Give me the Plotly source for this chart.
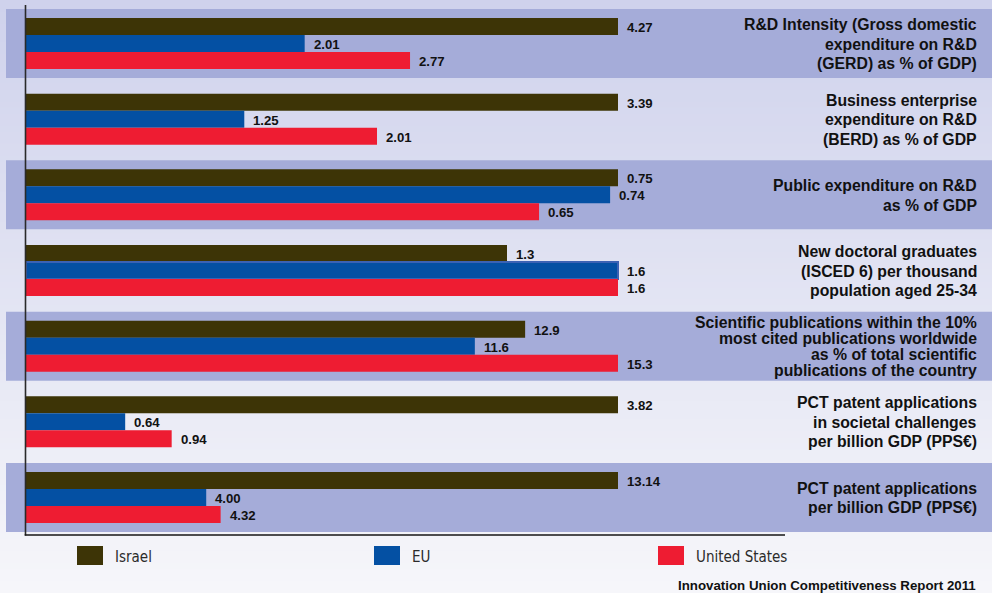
import plotly.graph_objects as go

# ---- data -------------------------------------------------------------
indicator_lines = [
    ["R&D Intensity (Gross domestic", "expenditure on R&D", "(GERD) as % of GDP)"],
    ["Business enterprise", "expenditure on R&D", "(BERD) as % of GDP"],
    ["Public expenditure on R&D", "as % of GDP"],
    ["New doctoral graduates", "(ISCED 6) per thousand", "population aged 25-34"],
    ["Scientific publications within the 10%", "most cited publications worldwide",
     "as % of total scientific", "publications of the country"],
    ["PCT patent applications", "in societal challenges", "per billion GDP (PPS€)"],
    ["PCT patent applications", "per billion GDP (PPS€)"],
]
israel = [4.27, 3.39, 0.75, 1.3, 12.9, 3.82, 13.14]
eu = [2.01, 1.25, 0.74, 1.6, 11.6, 0.64, 4.00]
united_states = [2.77, 2.01, 0.65, 1.6, 15.3, 0.94, 4.32]
label_decimals = [2, 2, 2, 1, 1, 2, 2]
series_names = ["Israel", "EU", "United States"]
source_note = "Innovation Union Competitiveness Report 2011"

# ---- styling ----------------------------------------------------------
W, H = 992, 593
COLORS = ["#3d3406", "#0450a3", "#ee1c32"]
BAND = "#a5acd9"
BOLD = "Liberation Sans, Arial, Helvetica, sans-serif"
NARROW = "Liberation Sans Narrow, DejaVu Sans Condensed, Roboto Condensed, Roboto, sans-serif"
TEXT = "#111111"

AXIS_PX = 26.0        # left edge of the bars
FULL_PX = 592.0       # length of the longest bar in each group
TOP_CENTER = 43.5     # centre of the first group, px from top
GROUP_PX = 75.67      # distance between group centres, px
BARGAP = 0.326

categories = [" ".join(lines) for lines in indicator_lines]
series = [israel, eu, united_states]

# every indicator is drawn relative to its largest value
group_max = [max(vals) for vals in zip(*series)]
scaled = [[v / m for v, m in zip(vals, group_max)] for vals in series]

x_range = [-AXIS_PX / FULL_PX, (W - AXIS_PX) / FULL_PX]
y_range = [(H - TOP_CENTER) / GROUP_PX, -TOP_CENTER / GROUP_PX]

fig = go.Figure()
for s, (name, vals) in enumerate(zip(series_names, scaled)):
    line_w = [2 if (s == 1 and i == 3) else 0 for i in range(len(vals))]
    fig.add_trace(go.Bar(
        name=name, y=categories, x=vals, orientation="h",
        marker=dict(color=COLORS[s], line=dict(color="#3b62b4", width=line_w)),
        customdata=series[s], hovertemplate="%{customdata}<extra>" + name + "</extra>",
    ))

shapes = []
# soft vertical background gradient
top_rgb = (207, 210, 236)
bot_rgb = (246, 246, 250)
n_strips = 99
for i in range(n_strips):
    t = i / (n_strips - 1)
    c = tuple(round(a + (b - a) * t) for a, b in zip(top_rgb, bot_rgb))
    shapes.append(dict(type="rect", xref="paper", yref="paper", layer="below",
                       x0=0, x1=1, y0=1 - (i + 1) / n_strips - 0.002, y1=1 - i / n_strips,
                       line=dict(width=0), fillcolor="rgb(%d,%d,%d)" % c))
# alternating bands behind every other group
band_half = 34.5 / GROUP_PX
for k in range(0, len(categories), 2):
    shapes.append(dict(type="rect", xref="paper", yref="y", layer="below",
                       x0=6 / W, x1=1, y0=k - band_half, y1=k + band_half,
                       line=dict(width=0), fillcolor=BAND))
# axis lines
shapes.append(dict(type="line", xref="paper", yref="paper",
                   x0=25.5 / W, x1=25.5 / W, y0=1 - 5 / H, y1=1 - 535.5 / H,
                   line=dict(color="#2a2a2a", width=1.6)))
shapes.append(dict(type="line", xref="paper", yref="paper",
                   x0=24.7 / W, x1=785 / W, y0=1 - 535 / H, y1=1 - 535 / H,
                   line=dict(color="#141414", width=1.6)))

annotations = []
# value labels next to each bar
bar_unit = (1 - BARGAP) / 3
for s, vals in enumerate(series):
    for k, v in enumerate(vals):
        annotations.append(dict(
            x=scaled[s][k], y=k + (s - 1) * bar_unit, xref="x", yref="y",
            text=f"{v:.{label_decimals[k]}f}", showarrow=False,
            xanchor="left", yanchor="middle", xshift=7, yshift=-1,
            font=dict(family=BOLD, size=13.2, color=TEXT, weight="bold")))
# indicator names on the right
for k, lines in enumerate(indicator_lines):
    n = len(lines)
    step = 19.5 if n <= 3 else 16
    for j, line in enumerate(lines):
        off = (j - (n - 1) / 2) * step + 0.5
        annotations.append(dict(
            x=979 / W, y=k, xref="paper", yref="y", text=line, showarrow=False,
            xanchor="right", yanchor="middle", yshift=-off,
            font=dict(family=BOLD, size=15.8, color=TEXT, weight="bold")))
# legend
legend_x = [77, 374, 658]
for name, color, lx in zip(series_names, COLORS, legend_x):
    shapes.append(dict(type="rect", xref="paper", yref="paper",
                       x0=lx / W, x1=(lx + 26) / W, y0=1 - 546 / H, y1=1 - 565 / H,
                       line=dict(width=0), fillcolor=color))
    annotations.append(dict(
        x=(lx + 36) / W, y=1 - 556.5 / H, xref="paper", yref="paper", text=name,
        showarrow=False, xanchor="left", yanchor="middle",
        font=dict(family=NARROW, size=15, color="#2b2b2b")))
annotations.append(dict(
    x=978 / W, y=1 - 585 / H, xref="paper", yref="paper", text=source_note,
    showarrow=False, xanchor="right", yanchor="middle",
    font=dict(family=BOLD, size=13.3, color=TEXT, weight="bold")))

fig.update_layout(
    width=W, height=H, margin=dict(l=0, r=0, t=0, b=0),
    barmode="group", bargap=BARGAP, bargroupgap=0,
    paper_bgcolor="rgb(%d,%d,%d)" % bot_rgb, plot_bgcolor="rgba(0,0,0,0)",
    showlegend=False,
    xaxis=dict(range=x_range, visible=False, fixedrange=True),
    yaxis=dict(type="category", categoryorder="array", categoryarray=categories,
               range=y_range, visible=False, fixedrange=True),
    shapes=shapes, annotations=annotations,
)

fig.write_html("out.html")
